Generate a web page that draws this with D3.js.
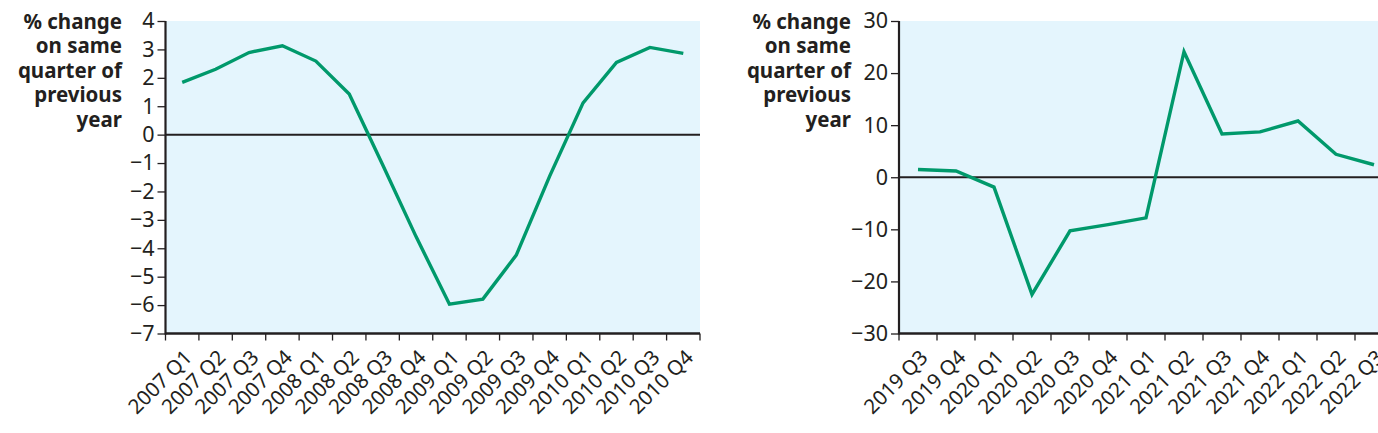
<!DOCTYPE html>
<html>
<head>
<meta charset="utf-8">
<script src="https://cdn.jsdelivr.net/npm/d3@7"></script>
<style>
  body { margin: 0; background: #fff; }
  svg { display: block; font-family: "Noto Sans", sans-serif; }
</style>
</head>
<body>
<div id="chart"></div>
<script>
// left panel: 2007-2010
var quartersA = ["2007 Q1","2007 Q2","2007 Q3","2007 Q4","2008 Q1","2008 Q2","2008 Q3","2008 Q4",
  "2009 Q1","2009 Q2","2009 Q3","2009 Q4","2010 Q1","2010 Q2","2010 Q3","2010 Q4"];
var valuesA = [1.84, 2.3, 2.89, 3.13, 2.59, 1.43, -1.06, -3.59, -5.97, -5.79, -4.24, -1.46, 1.12, 2.54, 3.07, 2.86];
var ticksA = [-7, -6, -5, -4, -3, -2, -1, 0, 1, 2, 3, 4];

// right panel: 2019-2022
var quartersB = ["2019 Q3","2019 Q4","2020 Q1","2020 Q2","2020 Q3","2020 Q4","2021 Q1","2021 Q2",
  "2021 Q3","2021 Q4","2022 Q1","2022 Q2","2022 Q3"];
var valuesB = [1.5, 1.2, -1.9, -22.5, -10.3, -9.1, -7.8, 24.1, 8.3, 8.7, 10.8, 4.4, 2.4];
var ticksB = [-30, -20, -10, 0, 10, 20, 30];

var titleLines = ["% change", "on same", "quarter of", "previous", "year"];

var ink = "#231f20",
  bg = "#e4f5fd",
  lineColor = "#00996b";

var svg = d3.select("#chart").append("svg")
  .attr("width", 1378)
  .attr("height", 433);

function panel(cats, vals, ticks, xr, titleX) {
  var top = 21, bottom = 333.5;

  var x = d3.scaleBand()
    .domain(cats)
    .range(xr);

  var y = d3.scaleLinear()
    .domain([ticks[0], ticks[ticks.length - 1]])
    .range([bottom, top]);

  var g = svg.append("g");

  g.append("rect")
    .attr("x", xr[0])
    .attr("y", top)
    .attr("width", xr[1] - xr[0])
    .attr("height", bottom - top)
    .attr("fill", bg);

  // zero line
  g.append("line")
    .attr("x1", xr[0]).attr("x2", xr[1])
    .attr("y1", y(0)).attr("y2", y(0))
    .attr("stroke", ink)
    .attr("stroke-width", 2);

  // y axis
  var yAxis = g.append("g")
    .attr("transform", "translate(" + xr[0] + ",0)")
    .call(d3.axisLeft(y).tickValues(ticks).tickSize(8).tickPadding(3));
  yAxis.select(".domain").remove();
  yAxis.selectAll(".tick line").attr("stroke", ink).attr("stroke-width", 1.3);
  yAxis.selectAll(".tick text")
    .attr("fill", ink)
    .style("font-size", "21.5px")
    .style("font-family", "'Noto Sans', sans-serif");

  g.append("line")
    .attr("x1", xr[0]).attr("x2", xr[0])
    .attr("y1", top).attr("y2", bottom + 1)
    .attr("stroke", ink)
    .attr("stroke-width", 2.2);

  // x axis ticks at band edges
  var edges = cats.map(function(d) { return x(d); }).concat([xr[1]]);
  g.selectAll("line.xtick")
    .data(edges)
    .enter().append("line")
    .attr("class", "xtick")
    .attr("x1", function(d) { return d; })
    .attr("x2", function(d) { return d; })
    .attr("y1", bottom)
    .attr("y2", bottom + 7)
    .attr("stroke", ink)
    .attr("stroke-width", 1.3);

  g.append("line")
    .attr("x1", xr[0]).attr("x2", xr[1])
    .attr("y1", bottom).attr("y2", bottom)
    .attr("stroke", ink)
    .attr("stroke-width", 2.5);

  g.selectAll("text.xlab")
    .data(cats)
    .enter().append("text")
    .attr("class", "xlab")
    .attr("transform", function(d) {
      return "translate(" + (x(d) + x.bandwidth() / 2 + 1) + "," + (bottom + 15) + ") rotate(-45)";
    })
    .attr("text-anchor", "end")
    .attr("dy", "0.7em")
    .attr("fill", ink)
    .style("font-size", "20.5px")
    .text(function(d) { return d; });

  var line = d3.line()
    .x(function(d, i) { return x(cats[i]) + x.bandwidth() / 2; })
    .y(function(d) { return y(d); });

  g.append("path")
    .datum(vals)
    .attr("d", line)
    .attr("fill", "none")
    .attr("stroke", lineColor)
    .attr("stroke-width", 3.4)
    .attr("stroke-linejoin", "miter");

  g.append("text")
    .attr("text-anchor", "end")
    .attr("fill", ink)
    .style("font-size", "20.5px")
    .style("font-weight", "bold")
    .selectAll("tspan")
    .data(titleLines)
    .enter().append("tspan")
    .attr("x", titleX)
    .attr("y", function(d, i) { return 28.5 + i * 24.6; })
    .text(function(d) { return d; });
}

panel(quartersA, valuesA, ticksA, [165.5, 700], 122);
panel(quartersB, valuesB, ticksB, [899, 1393], 851);
</script>
</body>
</html>
